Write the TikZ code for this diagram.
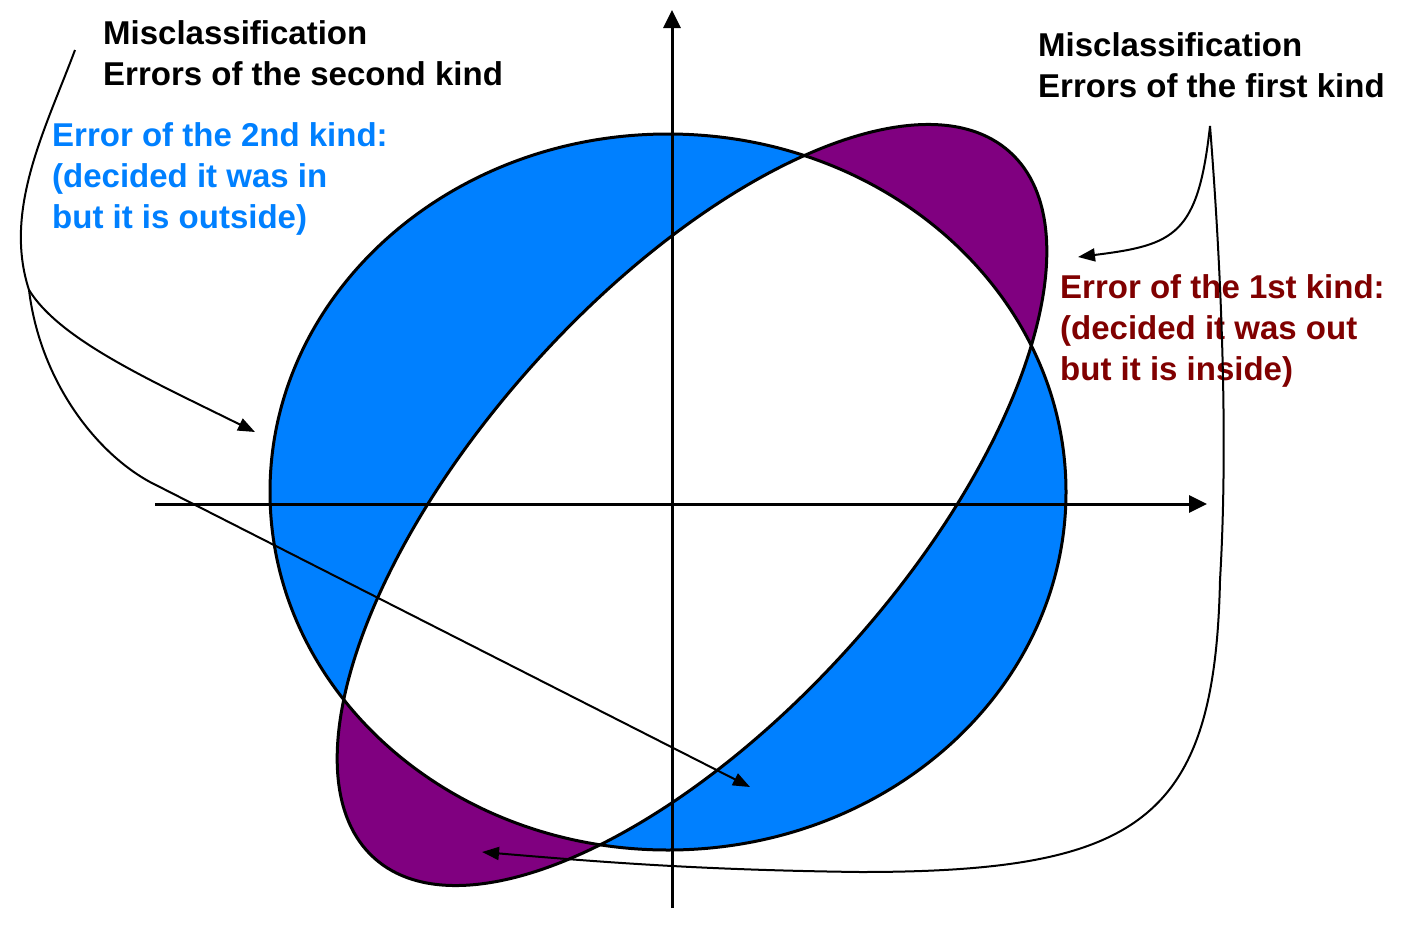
\documentclass[tikz,border=0pt]{standalone}
\usepackage{fontspec}
\setmainfont{Liberation Sans}
\usetikzlibrary{arrows.meta}
\definecolor{errblue}{RGB}{0,128,255}
\definecolor{errpurple}{RGB}{128,0,128}
\definecolor{errred}{RGB}{128,0,0}

\begin{document}
\begin{tikzpicture}[x=1pt, y=-1pt,
    every node/.style={font=\fontsize{33}{41}\selectfont\bfseries, inner sep=0pt, anchor=north west, align=left},
    outline/.style={line width=3pt},
    axis/.style={line width=3pt, -{Triangle[length=18pt, width=17pt]}},
    pointer/.style={line width=2pt, -{Triangle[length=17pt, width=13pt]}}]
  \path[fill=white] (0,0) rectangle (1402,908);
  % regions: decision circle and tilted class ellipse
  \fill[errpurple, rotate around={48:(692,505)}] (692,505) ellipse [x radius=475, y radius=212];
  \fill[errblue] (668,492) ellipse [x radius=398, y radius=358];
  \begin{scope}
    \clip (668,492) ellipse [x radius=398, y radius=358];
    \fill[white, rotate around={48:(692,505)}] (692,505) ellipse [x radius=475, y radius=212];
  \end{scope}
  \draw[outline] (668,492) ellipse [x radius=398, y radius=358];
  \draw[outline, rotate around={48:(692,505)}] (692,505) ellipse [x radius=475, y radius=212];
  % axes
  \coordinate (xl) at (155,504);
  \coordinate (xr) at (1207,504);
  \coordinate (yb) at (672,908);
  \coordinate (yt) at (672,10);
  \draw[axis] (xl) -- (xr);
  \draw[axis] (yb) -- (yt);
  % labels
  \node (second) at (103,20) {Misclassification\\Errors of the second kind};
  \node[text=errblue] (secondnote) at (52,122) {Error of the 2nd kind:\\(decided it was in\\but it is outside)};
  \node (first) at (1038,32) {Misclassification\\Errors of the first kind};
  \node[text=errred] (firstnote) at (1060,274) {Error of the 1st kind:\\(decided it was out\\but it is inside)};
  % left pointers: second kind
  \coordinate (lstart) at (75,50);
  \coordinate (lfork) at (29,290);
  \coordinate (ltipA) at (255,432);
  \coordinate (ltipB) at (750,787);
  \draw[line width=2pt] (lstart) .. controls (45,130) and (3,210) .. (lfork);
  \draw[pointer] (lfork) .. controls (60,340) and (150,380) .. (ltipA);
  \draw[pointer] (lfork) .. controls (40,380) and (95,452) .. (150,482) -- (ltipB);
  % right pointers: first kind
  \coordinate (rstart) at (1210,126);
  \coordinate (rtipA) at (1078,257);
  \coordinate (rtipB) at (482,852);
  \draw[pointer] (rstart) .. controls (1198,235) and (1175,245) .. (rtipA);
  \draw[pointer] (rstart) .. controls (1226,330) and (1226,480) .. (1220,580)
    .. controls (1215,820) and (1140,872) .. (860,872)
    .. controls (700,870) and (600,862) .. (rtipB);
\end{tikzpicture}
\end{document}
